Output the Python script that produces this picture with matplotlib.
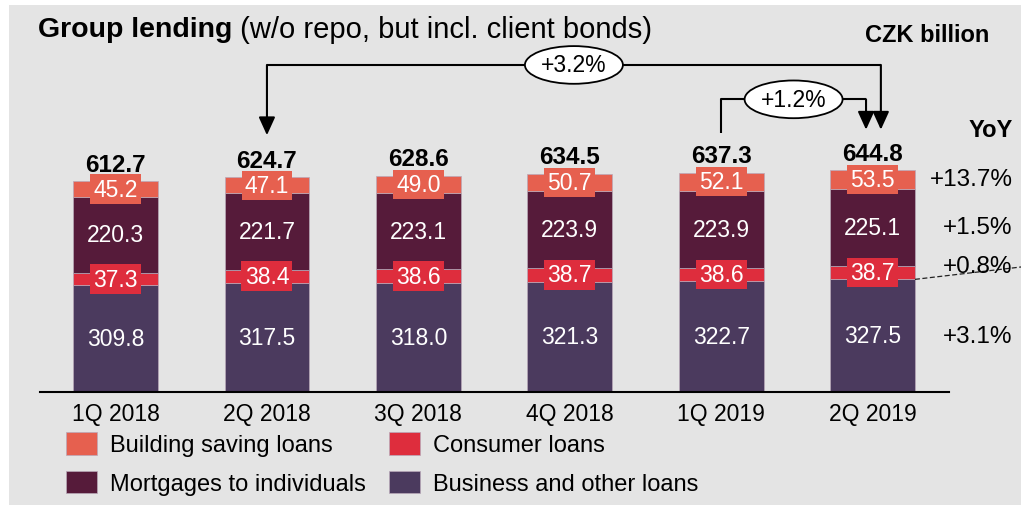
# Group lending - stacked bars by quarter

import numpy as np
import matplotlib.pyplot as plt
from matplotlib.patches import Rectangle

plt.rcParams['font.family'] = ['Liberation Sans', 'DejaVu Sans']

# Data (CZK billion)
quarters = ['1Q 2018', '2Q 2018', '3Q 2018', '4Q 2018', '1Q 2019', '2Q 2019']
business = [309.8, 317.5, 318.0, 321.3, 322.7, 327.5]
consumer = [37.3, 38.4, 38.6, 38.7, 38.6, 38.7]
mortgages = [220.3, 221.7, 223.1, 223.9, 223.9, 225.1]
building = [45.2, 47.1, 49.0, 50.7, 52.1, 53.5]
totals = [612.7, 624.7, 628.6, 634.5, 637.3, 644.8]

# YoY change for the last quarter, per segment (bottom to top)
yoy = ['+3.1%', '+0.8%', '+1.5%', '+13.7%']

# Growth brackets: (from index, to index, label)
growth_long = (1, 5, '+3.2%')
growth_short = (4, 5, '+1.2%')

# Colours
c_building = '#e6604f'
c_consumer = '#de2d3d'
c_mortgage = '#561b3a'
c_business = '#4b3a5e'
bg = '#e4e4e4'

W, H = 1021, 506
fig = plt.figure(figsize=(W / 100, H / 100), dpi=100)
fig.patches.append(Rectangle((9 / W, 0), 1, 1 - 6 / H, transform=fig.transFigure,
                             facecolor=bg, edgecolor='none', zorder=-10))

ax = fig.add_axes([40 / W, (H - 393) / H, (949 - 40) / W, (393 - 20) / H])
ax.set_facecolor('none')

x = np.arange(len(quarters))
width = 0.56

segments = [
    (business, c_business, 'Business and other loans', False),
    (consumer, c_consumer, 'Consumer loans', True),
    (mortgages, c_mortgage, 'Mortgages to individuals', False),
    (building, c_building, 'Building saving loans', True),
]

bottom = np.zeros(len(quarters))
mids_last = []
for vals, col, name, boxed in segments:
    vals = np.array(vals)
    ax.bar(x, vals, width, bottom=bottom, color=col, edgecolor='#b9a9b9',
           linewidth=0.5, label=name)
    for i in range(len(x)):
        mid = bottom[i] + vals[i] / 2
        box = None
        if boxed:
            box = dict(boxstyle='square,pad=0.14', facecolor=col, edgecolor='none')
        ax.text(x[i], mid, f'{vals[i]:.1f}', ha='center', va='center',
                color='white', fontsize=16.5, bbox=box, zorder=5)
    mids_last.append(bottom[-1] + vals[-1] / 2)
    bottom = bottom + vals

# Totals on top
for i in range(len(x)):
    ax.annotate(f'{totals[i]:.1f}', (x[i], bottom[i]), xytext=(0, 4),
                textcoords='offset points', ha='center', va='bottom',
                fontsize=17.5, fontweight='bold')

ax.set_xlim(-0.499, 5.505)
ax.set_ylim(0, 1084.6)
ax.set_xticks(x)
ax.set_xticklabels(quarters, fontsize=16.5)
ax.tick_params(axis='x', length=0, pad=7)
ax.set_yticks([])
for s in ['left', 'right', 'top']:
    ax.spines[s].set_visible(False)
ax.spines['bottom'].set_linewidth(1.5)

# Growth brackets with arrows
arrow = dict(arrowstyle='-|>,head_length=0.55,head_width=0.25', color='black',
             lw=1.5, shrinkA=0, shrinkB=0, mutation_scale=20)
line_kw = dict(color='black', lw=1.5, clip_on=False, solid_capstyle='butt')
ell = dict(boxstyle='ellipse,pad=0.08', facecolor='white', edgecolor='black', lw=1.3)

i0, i1, lab = growth_long
xa, xb = x[i0], x[i1] + 0.055
top = 951
ax.annotate('', xy=(xa, totals[i0] + 122), xytext=(xa, top), arrowprops=arrow,
            annotation_clip=False)
ax.annotate('', xy=(xb, totals[i1] + 118), xytext=(xb, top), arrowprops=arrow,
            annotation_clip=False)
ax.plot([xa, xb], [top, top], **line_kw)
ax.text((xa + xb) / 2, top, lab, ha='center', va='center', fontsize=16.5,
        bbox=ell, zorder=6)

i0, i1, lab = growth_short
xa, xb = x[i0], x[i1] - 0.043
top = 851
ax.plot([xa, xa, xb], [totals[i0] + 116, top, top], **line_kw)
ax.annotate('', xy=(xb, totals[i1] + 118), xytext=(xb, top), arrowprops=arrow,
            annotation_clip=False)
ax.text((xa + xb) / 2, top, lab, ha='center', va='center', fontsize=16.5,
        bbox=ell, zorder=6)

# YoY column
xr = 5.925
ax.text(xr, 762, 'YoY', ha='right', va='center', fontsize=17, fontweight='bold')
for k, txt in enumerate(yoy):
    yy = mids_last[k] + (20 if k == 1 else 0)
    ax.text(xr, yy, txt, ha='right', va='center', fontsize=17.5)

# leader line for the consumer loans YoY
ax.plot([x[-1] + width / 2, 5.99], [business[-1], 364], color='#222222', lw=0.9,
        ls=(0, (4, 2)), clip_on=False)

# Title
t1 = fig.text(38 / W, 1 - 30 / H, 'Group lending', fontsize=20.5, fontweight='bold',
              va='center', ha='left')
ax.annotate(' (w/o repo, but incl. client bonds)', xy=(1, 0.5), xycoords=t1,
            va='center', ha='left', fontsize=21, annotation_clip=False)
fig.text(989 / W, 1 - 35 / H, 'CZK billion', fontsize=17, fontweight='bold',
         ha='right', va='center')

# Legend
handles, labels = ax.get_legend_handles_labels()
order = [3, 2, 1, 0]
fig.legend([handles[i] for i in order], [labels[i] for i in order],
           ncol=2, loc='upper left', bbox_to_anchor=(66 / W, 1 - 433 / H),
           frameon=False, fontsize=17, handlelength=1.3, handleheight=1.1,
           handletextpad=0.55, columnspacing=1.0, labelspacing=0.6, borderpad=0,
           borderaxespad=0)

fig.savefig('out.png', dpi=100)
